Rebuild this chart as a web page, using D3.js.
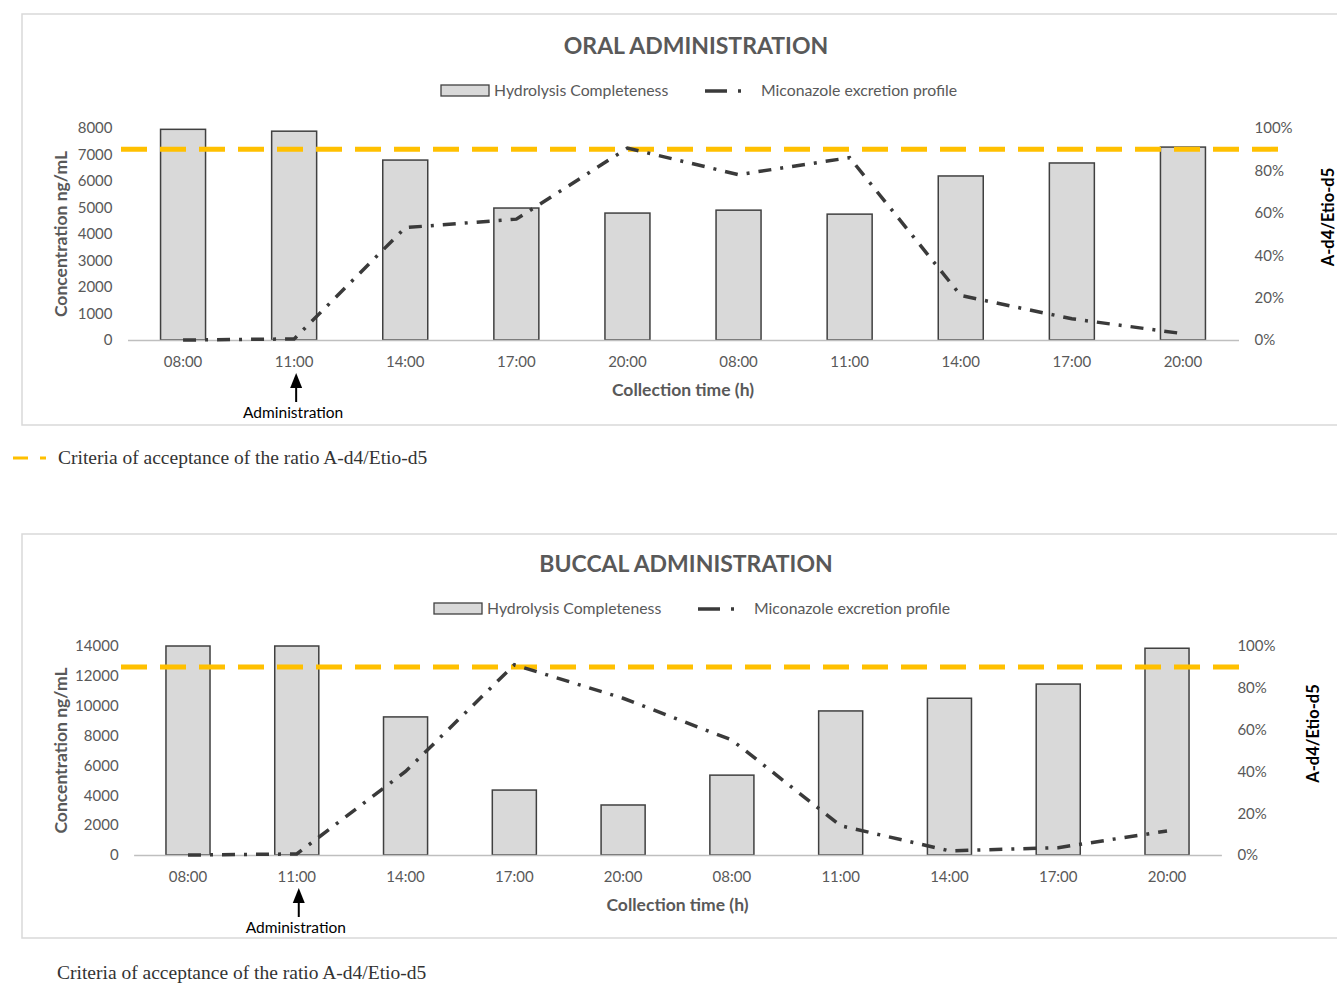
<!DOCTYPE html>
<html lang="en">
<head>
<meta charset="UTF-8">
<title>Oral and buccal administration</title>
<script src="https://d3js.org/d3.v7.min.js"></script>
<style>
    body { margin: 0; background: #fff; }
    svg { display: block; }
    .tick text { font-family: Lato, "Open Sans", sans-serif; font-size: 15px; fill: #595959; }
    .title { font-family: Lato, "Open Sans", sans-serif; font-weight: bold; font-size: 23px; fill: #595959; }
    .legend { font-family: Lato, "Open Sans", sans-serif; font-size: 15.8px; fill: #595959; }
    .axtitle { font-family: Lato, "Open Sans", sans-serif; font-weight: bold; font-size: 17.5px; fill: #595959; }
    .note { font-family: "Liberation Serif", "DejaVu Serif", serif; font-size: 19.5px; fill: #333; }
</style>
</head>
<body>
<div id="chart"></div>
<script>
// collection times (two days)
const times = ["08:00", "11:00", "14:00", "17:00", "20:00", "08:00", "11:00", "14:00", "17:00", "20:00"];

// hydrolysis completeness, ng/mL
const oralConc = [7950, 7880, 6790, 4980, 4790, 4900, 4750, 6190, 6680, 7280];
const buccalConc = [14000, 14000, 9250, 4350, 3350, 5350, 9650, 10500, 11450, 13850];

// miconazole excretion profile, A-d4/Etio-d5 ratio
const oralRatio = [0, 0.005, 0.53, 0.57, 0.905, 0.78, 0.86, 0.21, 0.10, 0.03];
const buccalRatio = [0, 0.005, 0.40, 0.91, 0.75, 0.55, 0.14, 0.02, 0.035, 0.115];

// acceptance criterion for the ratio
const criteria = 0.9;

const oralTicks = [0, 1000, 2000, 3000, 4000, 5000, 6000, 7000, 8000];
const buccalTicks = [0, 2000, 4000, 6000, 8000, 10000, 12000, 14000];
const ratioTicks = [0, 0.2, 0.4, 0.6, 0.8, 1];

const svg = d3.select("#chart").append("svg")
    .attr("width", 1337)
    .attr("height", 984);

function drawPanel(p) {
    const g = svg.append("g");

    // frame
    g.append("rect")
        .attr("x", p.box[0]).attr("y", p.box[1])
        .attr("width", p.box[2]).attr("height", p.box[3])
        .attr("fill", "#fff").attr("stroke", "#d9d9d9").attr("stroke-width", 1.5);

    const x = d3.scaleBand()
        .domain(d3.range(times.length))
        .range([p.left, p.right]);
    const bw = x.bandwidth();
    const barW = bw * 0.405;

    const yL = d3.scaleLinear().domain([0, p.maxL]).range([p.bottom, p.top]);
    const yR = d3.scaleLinear().domain([0, 1]).range([p.bottom, p.top]);

    // bars
    g.selectAll(".bar")
        .data(p.conc)
        .join("rect")
        .attr("class", "bar")
        .attr("x", (d, i) => x(i) + (bw - barW) / 2)
        .attr("y", d => yL(d))
        .attr("width", barW)
        .attr("height", d => p.bottom - yL(d))
        .attr("fill", "#d9d9d9")
        .attr("stroke", "#404040")
        .attr("stroke-width", 1.5);

    // x axis
    const xAxis = g.append("g")
        .attr("transform", `translate(0,${p.bottom})`)
        .call(d3.axisBottom(x).tickFormat(i => times[i]).tickSize(0).tickSizeOuter(0).tickPadding(16));
    xAxis.select(".domain").attr("stroke", "#bfbfbf").attr("stroke-width", 1.5);

    // left axis
    const lAxis = g.append("g")
        .attr("transform", `translate(${p.left},0)`)
        .call(d3.axisLeft(yL).tickValues(p.ticks).tickFormat(d3.format("d")).tickSize(0).tickPadding(15));
    lAxis.select(".domain").remove();

    // right axis
    const rAxis = g.append("g")
        .attr("transform", `translate(${p.right},0)`)
        .call(d3.axisRight(yR).tickValues(ratioTicks).tickFormat(d3.format(".0%")).tickSize(0).tickPadding(16));
    rAxis.select(".domain").remove();

    // criteria line
    g.append("line")
        .attr("x1", p.critX[0]).attr("x2", p.critX[1])
        .attr("y1", yR(criteria)).attr("y2", yR(criteria))
        .attr("stroke", "#ffc000").attr("stroke-width", 5)
        .attr("stroke-dasharray", "26,13");

    // excretion profile
    const line = d3.line()
        .x((d, i) => x(i) + bw / 2)
        .y(d => yR(d));
    g.append("path")
        .datum(p.ratio)
        .attr("fill", "none")
        .attr("stroke", "#3a3a3a")
        .attr("stroke-width", 3.5)
        .attr("stroke-dasharray", "13,9,3,9")
        .attr("d", line);

    // title
    g.append("text").attr("class", "title")
        .attr("x", p.titleX).attr("y", p.top - 74)
        .attr("text-anchor", "middle")
        .text(p.title);

    // legend
    const ly = p.top - 37;
    g.append("rect")
        .attr("x", p.legX).attr("y", ly - 6)
        .attr("width", 48).attr("height", 11)
        .attr("fill", "#d9d9d9").attr("stroke", "#404040").attr("stroke-width", 1.3);
    g.append("text").attr("class", "legend")
        .attr("x", p.legX + 53).attr("y", ly + 5)
        .text("Hydrolysis Completeness");
    g.append("line")
        .attr("x1", p.legX + 264).attr("x2", p.legX + 306)
        .attr("y1", ly).attr("y2", ly)
        .attr("stroke", "#3a3a3a").attr("stroke-width", 3.5)
        .attr("stroke-dasharray", "22,11,3,9");
    g.append("text").attr("class", "legend")
        .attr("x", p.legX + 320).attr("y", ly + 5)
        .text("Miconazole excretion profile");

    // axis titles
    g.append("text").attr("class", "axtitle")
        .attr("transform", `translate(67,${(p.top + p.bottom) / 2}) rotate(-90)`)
        .attr("text-anchor", "middle")
        .text("Concentration ng/mL");
    g.append("text").attr("class", "axtitle")
        .attr("x", (p.left + p.right) / 2).attr("y", p.bottom + 56)
        .attr("text-anchor", "middle")
        .text("Collection time (h)");
    g.append("text").attr("class", "axtitle")
        .attr("transform", `translate(${p.rTitleX},${(p.top + p.bottom) / 2 - 17}) rotate(-90)`)
        .attr("text-anchor", "middle")
        .style("fill", "#000")
        .style("font-size", "16.5px")
        .text("A-d4/Etio-d5");

    // administration arrow at 11:00
    const ax = x(1) + bw / 2 + 2;
    g.append("line")
        .attr("x1", ax).attr("x2", ax)
        .attr("y1", p.bottom + 44).attr("y2", p.bottom + 62)
        .attr("stroke", "#000").attr("stroke-width", 2);
    g.append("path")
        .attr("d", `M${ax - 6},${p.bottom + 48}L${ax},${p.bottom + 33}L${ax + 6},${p.bottom + 48}Z`)
        .attr("fill", "#000");
    g.append("text")
        .attr("x", ax - 3).attr("y", p.bottom + 78)
        .attr("text-anchor", "middle")
        .style("font-family", "Lato, 'Open Sans', sans-serif")
        .style("font-size", "15.5px")
        .style("fill", "#000")
        .text("Administration");

    // footnote
    if (p.noteDash) {
        g.append("line")
            .attr("x1", 13).attr("x2", 46)
            .attr("y1", p.noteY - 6).attr("y2", p.noteY - 6)
            .attr("stroke", "#ffc000").attr("stroke-width", 3)
            .attr("stroke-dasharray", "15,12");
    }
    g.append("text").attr("class", "note")
        .attr("x", p.noteX).attr("y", p.noteY)
        .text("Criteria of acceptance of the ratio A-d4/Etio-d5");
}

drawPanel({
    title: "ORAL ADMINISTRATION",
    box: [22, 14, 1330, 411],
    left: 127.5, right: 1238.5, top: 128, bottom: 340,
    maxL: 8000, ticks: oralTicks,
    conc: oralConc, ratio: oralRatio,
    critX: [121, 1280],
    titleX: 696, legX: 441, rTitleX: 1334,
    noteX: 58, noteY: 464, noteDash: true
});

drawPanel({
    title: "BUCCAL ADMINISTRATION",
    box: [22, 534, 1330, 404],
    left: 133.6, right: 1221.4, top: 646, bottom: 855,
    maxL: 14000, ticks: buccalTicks,
    conc: buccalConc, ratio: buccalRatio,
    critX: [121, 1248],
    titleX: 686, legX: 434, rTitleX: 1319,
    noteX: 57, noteY: 979, noteDash: false
});
</script>
</body>
</html>
